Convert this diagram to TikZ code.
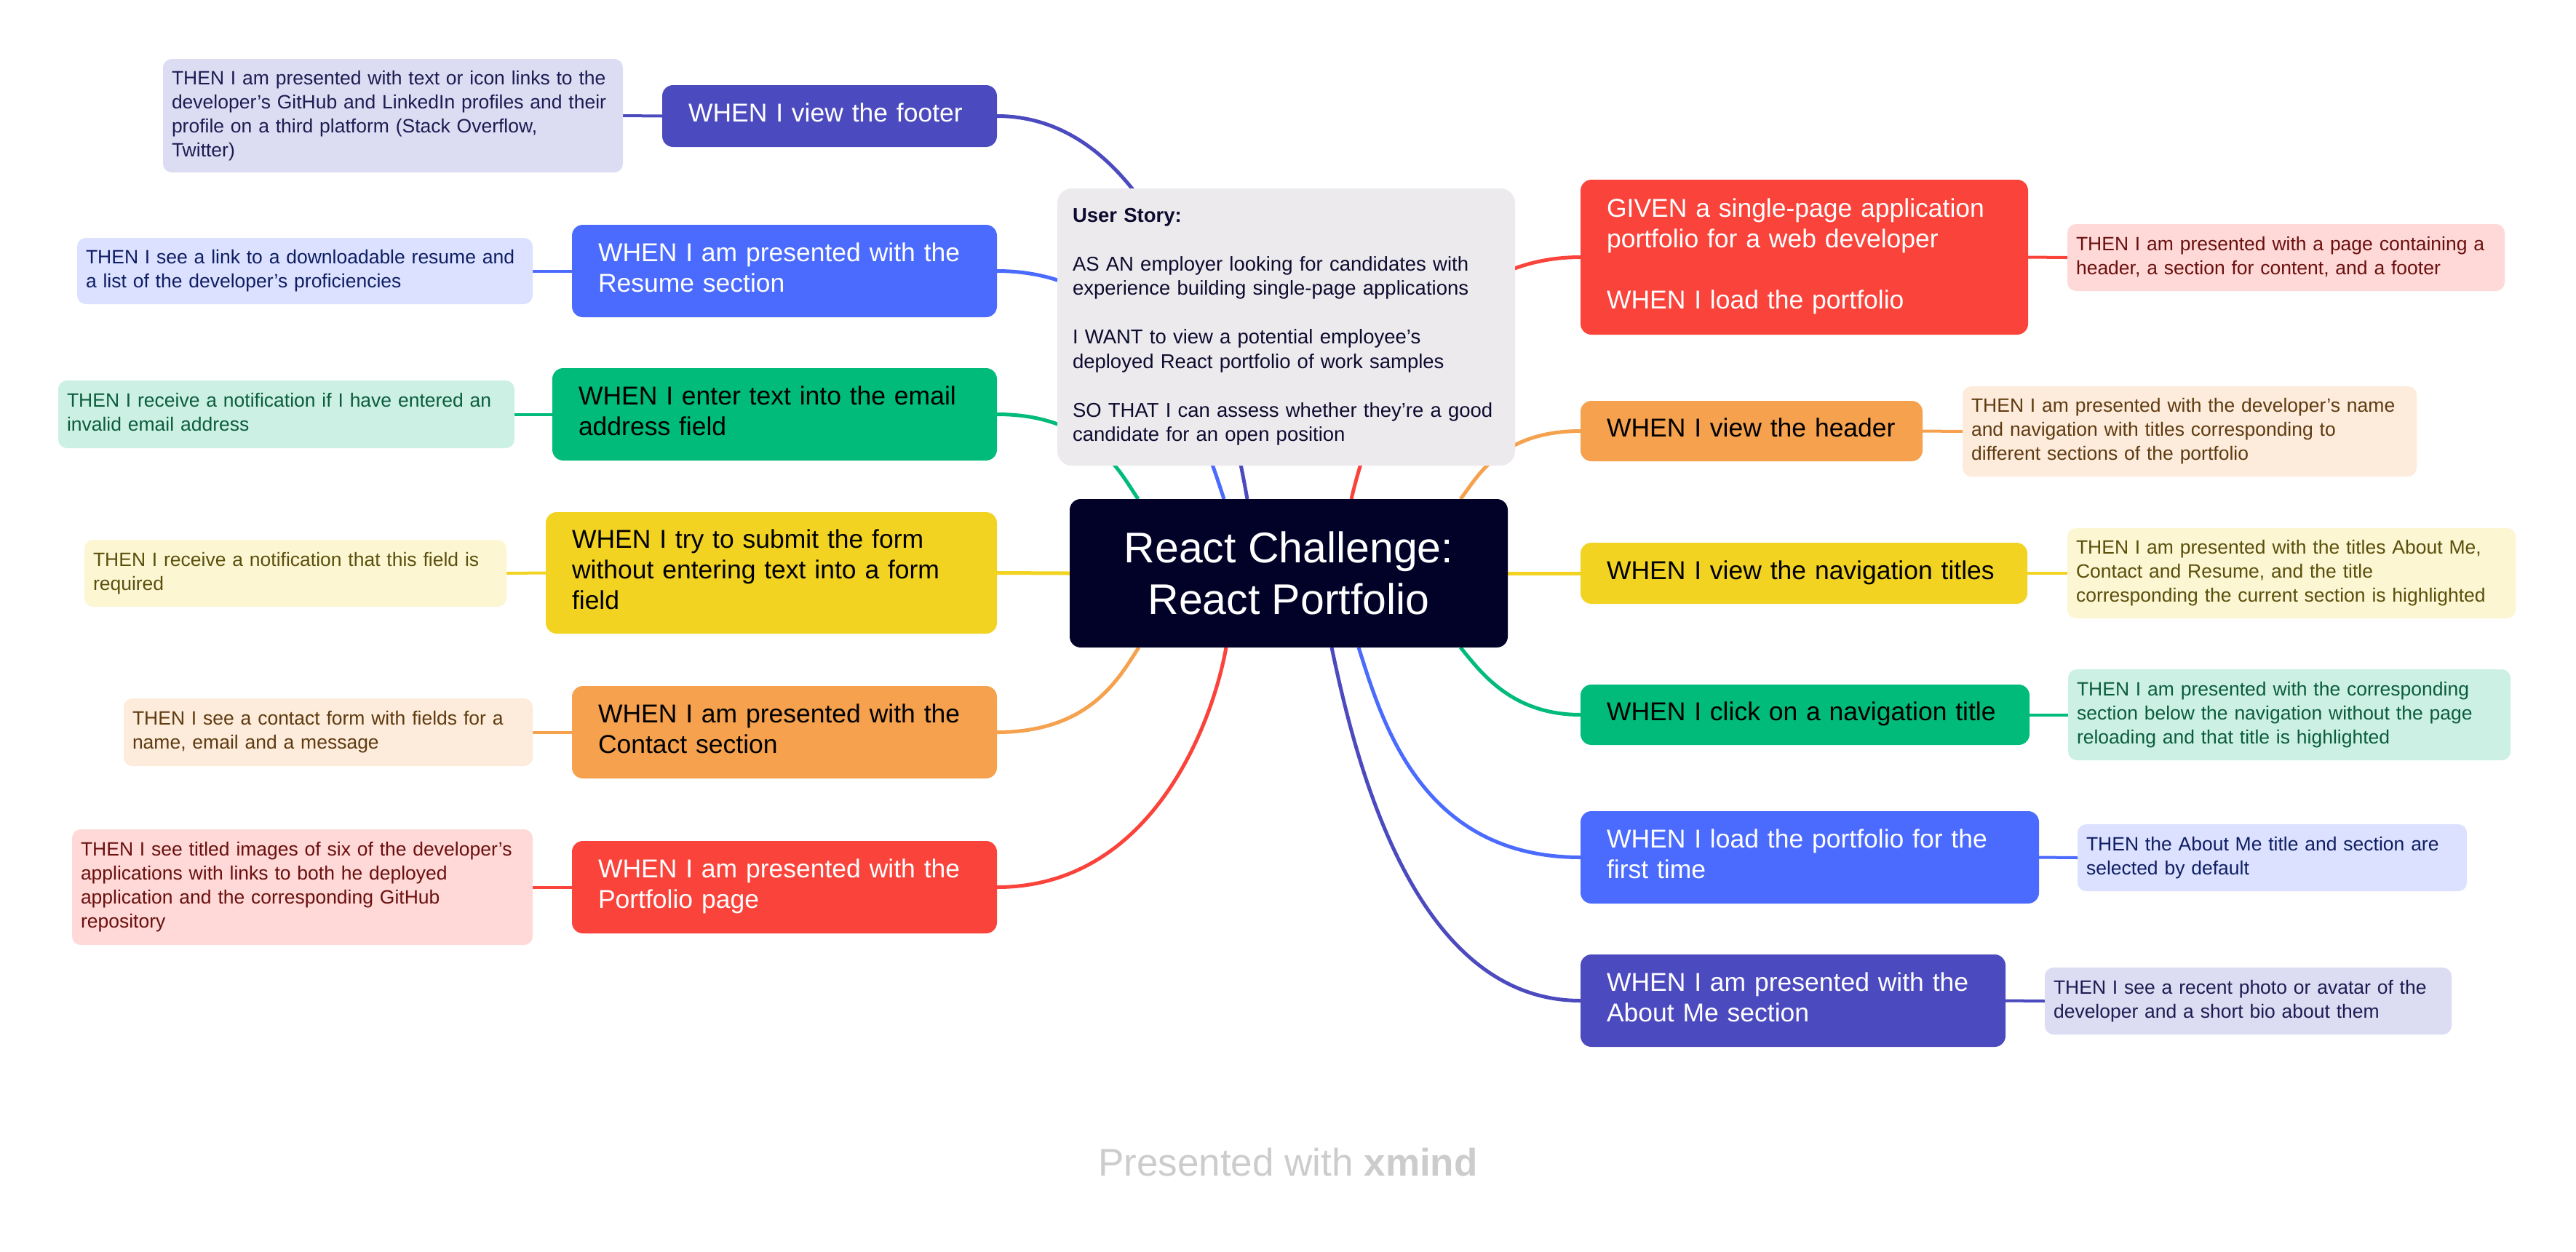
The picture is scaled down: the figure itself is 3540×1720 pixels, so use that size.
\documentclass[tikz,border=0pt]{standalone}
\usepackage{fontspec}
\setmainfont{Liberation Sans}
\usetikzlibrary{calc}
\pgfdeclarelayer{bg}
\pgfsetlayers{bg,main}
\definecolor{vio}{HTML}{4C4ABF}
\definecolor{blu}{HTML}{4A6BFE}
\definecolor{grn}{HTML}{00BB7A}
\definecolor{yel}{HTML}{F2D322}
\definecolor{ora}{HTML}{F5A14D}
\definecolor{cred}{HTML}{FA433B}
\definecolor{navy}{HTML}{020228}
\definecolor{tvio}{HTML}{DCDCF2}
\definecolor{tblu}{HTML}{DBE1FF}
\definecolor{tgrn}{HTML}{CCF1E4}
\definecolor{tyel}{HTML}{FCF6D3}
\definecolor{tora}{HTML}{FDEBDB}
\definecolor{tred}{HTML}{FED9D8}
\definecolor{xvio}{HTML}{1E1B52}
\definecolor{xblu}{HTML}{0F1E63}
\definecolor{xgrn}{HTML}{0B5C3D}
\definecolor{xyel}{HTML}{5A4F0C}
\definecolor{xora}{HTML}{5E3B10}
\definecolor{xred}{HTML}{6A100E}
\definecolor{storyfill}{HTML}{ECEAED}
\definecolor{storytext}{HTML}{0D0B2E}
\definecolor{brand}{HTML}{CCCCCC}
\newcommand\tb[1]{\begin{tabular}{@{}l@{}}#1\end{tabular}}
\tikzset{
  wbox/.code n args={4}{\pgfmathsetmacro\bw{(#3-#1)*0.5}\pgfmathsetmacro\bh{(#4-#2)*0.5}%
    \pgfmathsetmacro\bx{(#1+#3)/2}\pgfmathsetmacro\by{(#2+#4)/2}\pgfmathsetmacro\tw{(#3-#1)*0.5-36}%
    \edef\tmp{\noexpand\pgfkeysalso{minimum width=\bw pt,minimum height=\bh pt,at={(\bx,\by)},text width=\tw pt}}\tmp},
  tbox/.code n args={4}{\pgfmathsetmacro\bw{(#3-#1)*0.5}\pgfmathsetmacro\bh{(#4-#2)*0.5}%
    \pgfmathsetmacro\bx{(#1+#3)/2}\pgfmathsetmacro\by{(#2+#4)/2}\pgfmathsetmacro\tw{(#3-#1)*0.5-12}%
    \edef\tmp{\noexpand\pgfkeysalso{minimum width=\bw pt,minimum height=\bh pt,at={(\bx,\by)},text width=\tw pt}}\tmp},
  sbox/.code n args={4}{\pgfmathsetmacro\bw{(#3-#1)*0.5}\pgfmathsetmacro\bh{(#4-#2)*0.5}%
    \pgfmathsetmacro\bx{(#1+#3)/2}\pgfmathsetmacro\by{(#2+#4)/2}\pgfmathsetmacro\tw{(#3-#1)*0.5-21}%
    \edef\tmp{\noexpand\pgfkeysalso{minimum width=\bw pt,minimum height=\bh pt,at={(\bx,\by)},text width=\tw pt}}\tmp},
  cbox/.code n args={4}{\pgfmathsetmacro\bw{(#3-#1)*0.5}\pgfmathsetmacro\bh{(#4-#2)*0.5}%
    \pgfmathsetmacro\bx{(#1+#3)/2}\pgfmathsetmacro\by{(#2+#4)/2}%
    \edef\tmp{\noexpand\pgfkeysalso{minimum width=\bw pt,minimum height=\bh pt,at={(\bx,\by)}}}\tmp},
  whenS/.style={rounded corners=7.5pt, inner xsep=18pt, inner ysep=0pt, outer sep=0pt, align=left, font=\fontsize{17.75}{21}\selectfont},
  thenS/.style={rounded corners=6pt, inner xsep=6pt, inner ysep=0pt, outer sep=0pt, align=left, font=\fontsize{13.25}{16.5}\selectfont},
  curve/.style={line width=2.5pt},
  link/.style={line width=2pt},
}
\begin{document}
\begin{tikzpicture}[x=0.5pt,y=-0.5pt]
\useasboundingbox (0,0) rectangle (3540,1720);
% central topic
\node[cbox={1470}{686}{2072}{890}, fill=navy, text=white, rounded corners=7.5pt, inner sep=0pt, outer sep=0pt, align=center, font=\fontsize{29.5}{35.5}\selectfont] (root) {React Challenge:\\React Portfolio};
% floating user story
\node[sbox={1453}{259}{2082}{640}, fill=storyfill, text=storytext, rounded corners=10pt, inner xsep=10.5pt, inner ysep=0pt, outer sep=0pt, align=left, font=\fontsize{13.75}{16.75}\selectfont] (story)
 {\tb{\textbf{User Story:}\\ \\AS AN employer looking for candidates with\\experience building single-page applications\\ \\I WANT to view a potential employee’s\\deployed React portfolio of work samples\\ \\SO THAT I can assess whether they’re a good\\candidate for an open position}};
% left branches
\node[whenS, fill=vio, text=white, wbox={910}{117}{1370}{202}] (fW) {\tb{WHEN I view the footer}};
\node[thenS, fill=tvio, text=xvio, tbox={224}{81}{856}{237}] (fT) {\tb{THEN I am presented with text or icon links to the\\developer’s GitHub and LinkedIn profiles and their\\profile on a third platform (Stack Overflow,\\Twitter)}};
\node[whenS, fill=blu, text=white, wbox={786}{309}{1370}{436}] (rW) {\tb{WHEN I am presented with the\\Resume section}};
\node[thenS, fill=tblu, text=xblu, tbox={106}{327}{732}{418}] (rT) {\tb{THEN I see a link to a downloadable resume and\\a list of the developer’s proficiencies}};
\node[whenS, fill=grn, text=black, wbox={759}{506}{1370}{633}] (eW) {\tb{WHEN I enter text into the email\\address field}};
\node[thenS, fill=tgrn, text=xgrn, tbox={80}{523}{707}{616}] (eT) {\tb{THEN I receive a notification if I have entered an\\invalid email address}};
\node[whenS, fill=yel, text=black, wbox={750}{704}{1370}{871}] (sW) {\tb{WHEN I try to submit the form\\without entering text into a form\\field}};
\node[thenS, fill=tyel, text=xyel, tbox={116}{742}{696}{834}] (sT) {\tb{THEN I receive a notification that this field is\\required}};
\node[whenS, fill=ora, text=black, wbox={786}{943}{1370}{1070}] (cW) {\tb{WHEN I am presented with the\\Contact section}};
\node[thenS, fill=tora, text=xora, tbox={170}{960}{732}{1053}] (cT) {\tb{THEN I see a contact form with fields for a\\name, email and a message}};
\node[whenS, fill=cred, text=white, wbox={786}{1156}{1370}{1283}] (pW) {\tb{WHEN I am presented with the\\Portfolio page}};
\node[thenS, fill=tred, text=xred, tbox={99}{1140}{732}{1299}] (pT) {\tb{THEN I see titled images of six of the developer’s\\applications with links to both he deployed\\application and the corresponding GitHub\\repository}};
% right branches
\node[whenS, fill=cred, text=white, wbox={2172}{247}{2787}{460}] (gW) {\tb{GIVEN a single-page application\\portfolio for a web developer\\ \\WHEN I load the portfolio}};
\node[thenS, fill=tred, text=xred, tbox={2841}{308}{3442}{400}] (gT) {\tb{THEN I am presented with a page containing a\\header, a section for content, and a footer}};
\node[whenS, fill=ora, text=black, wbox={2172}{551}{2642}{634}] (hW) {\tb{WHEN I view the header}};
\node[thenS, fill=tora, text=xora, tbox={2697}{531}{3321}{655}] (hT) {\tb{THEN I am presented with the developer’s name\\and navigation with titles corresponding to\\different sections of the portfolio}};
\node[whenS, fill=yel, text=black, wbox={2172}{746}{2786}{830}] (nW) {\tb{WHEN I view the navigation titles}};
\node[thenS, fill=tyel, text=xyel, tbox={2841}{726}{3457}{850}] (nT) {\tb{THEN I am presented with the titles About Me,\\Contact and Resume, and the title\\corresponding the current section is highlighted}};
\node[whenS, fill=grn, text=black, wbox={2172}{941}{2789}{1024}] (kW) {\tb{WHEN I click on a navigation title}};
\node[thenS, fill=tgrn, text=xgrn, tbox={2842}{920}{3450}{1045}] (kT) {\tb{THEN I am presented with the corresponding\\section below the navigation without the page\\reloading and that title is highlighted}};
\node[whenS, fill=blu, text=white, wbox={2172}{1115}{2802}{1242}] (lW) {\tb{WHEN I load the portfolio for the\\first time}};
\node[thenS, fill=tblu, text=xblu, tbox={2855}{1133}{3390}{1225}] (lT) {\tb{THEN the About Me title and section are\\selected by default}};
\node[whenS, fill=vio, text=white, wbox={2172}{1312}{2756}{1439}] (aW) {\tb{WHEN I am presented with the\\About Me section}};
\node[thenS, fill=tvio, text=xvio, tbox={2810}{1330}{3369}{1422}] (aT) {\tb{THEN I see a recent photo or avatar of the\\developer and a short bio about them}};
% brand
\node[text=brand, font=\fontsize{26.5}{30}\selectfont, inner sep=0pt] (brandtxt) at (1770,1598) {Presented with \textbf{xmind}};
% connectors
\begin{pgfonlayer}{bg}
\fill[white] (0,0) rectangle (3540,1720);
\draw[curve, vio] ($(root.north)+(-57,0)$) .. controls ($(root.north)+(-88,-175)$) and ($(fW.east)+(229,0)$) .. (fW.east);
\draw[curve, blu] ($(root.north)+(-89,0)$) .. controls ($(root.north)+(-123,-105)$) and ($(rW.east)+(208,0)$) .. (rW.east);
\draw[curve, grn] ($(root.north)+(-207,0)$) .. controls ($(root.north)+(-233,-39)$) and ($(eW.east)+(129,0)$) .. (eW.east);
\draw[curve, yel] (root.west) -- (sW.east);
\draw[curve, ora] ($(root.south)+(-206,0)$) .. controls ($(root.south)+(-232,39)$) and ($(cW.east)+(130,0)$) .. (cW.east);
\draw[curve, cred] ($(root.south)+(-86,0)$) .. controls ($(root.south)+(-106,110)$) and ($(pW.east)+(210,0)$) .. (pW.east);
\draw[curve, cred] ($(root.north)+(86,0)$) .. controls ($(root.north)+(112,-111)$) and ($(gW.west)+(-210,0)$) .. (gW.west);
\draw[curve, ora] ($(root.north)+(236,0)$) .. controls ($(root.north)+(260,-31)$) and ($(hW.west)+(-110,0)$) .. (hW.west);
\draw[curve, yel] (root.east) -- (nW.west);
\draw[curve, grn] ($(root.south)+(236,0)$) .. controls ($(root.south)+(262,31)$) and ($(kW.west)+(-97,0)$) .. (kW.west);
\draw[curve, blu] ($(root.south)+(96,0)$) .. controls ($(root.south)+(127,96)$) and ($(lW.west)+(-222,0)$) .. (lW.west);
\draw[curve, vio] ($(root.south)+(59,0)$) .. controls ($(root.south)+(93,162)$) and ($(aW.west)+(-228,0)$) .. (aW.west);
\draw[link, vio] (fW.west) -- (fT.east);
\draw[link, blu] (rW.west) -- (rT.east);
\draw[link, grn] (eW.west) -- (eT.east);
\draw[link, yel] (sW.west) -- (sT.east);
\draw[link, ora] (cW.west) -- (cT.east);
\draw[link, cred] (pW.west) -- (pT.east);
\draw[link, cred] (gW.east) -- (gT.west);
\draw[link, ora] (hW.east) -- (hT.west);
\draw[link, yel] (nW.east) -- (nT.west);
\draw[link, grn] (kW.east) -- (kT.west);
\draw[link, blu] (lW.east) -- (lT.west);
\draw[link, vio] (aW.east) -- (aT.west);
\end{pgfonlayer}
\end{tikzpicture}
\end{document}
